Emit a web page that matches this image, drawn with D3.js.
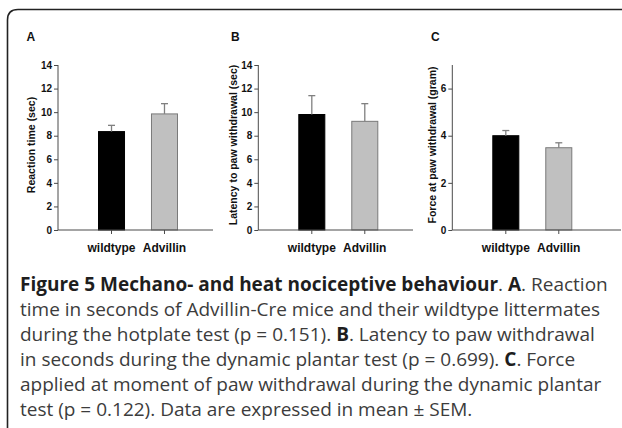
<!DOCTYPE html>
<html>
<head>
<meta charset="utf-8">
<script src="https://cdn.jsdelivr.net/npm/d3@7"></script>
<style>
  html, body { margin: 0; padding: 0; background: #fff; }
  svg { display: block; }
</style>
</head>
<body>
<svg id="chart" width="622" height="428"></svg>
<script>
// ---- Data ----
const categories = ["wildtype", "Advillin"];
const panelLetters = ["A", "B", "C"];
const yTitles = ["Reaction time (sec)", "Latency to paw withdrawal (sec)", "Force at paw withdrawal (gram)"];
const meansA = [8.35, 9.85];
const semA = [0.53, 0.87];
const meansB = [9.8, 9.22];
const semB = [1.6, 1.5];
const meansC = [4.0, 3.49];
const semC = [0.22, 0.21];
const yTicksAB = [0, 2, 4, 6, 8, 10, 12, 14];
const yTicksC = [0, 2, 4, 6];
const yMaxAB = 14;
const yMaxC = 7;

const captionLines = [
  [["Figure 5 Mechano- and heat nociceptive behaviour", true], [". ", false], ["A", true], [". Reaction", false]],
  [["time in seconds of Advillin-Cre mice and their wildtype littermates", false]],
  [["during the hotplate test (p = 0.151). ", false], ["B", true], [". Latency to paw withdrawal", false]],
  [["in seconds during the dynamic plantar test (p = 0.699). ", false], ["C", true], [". Force", false]],
  [["applied at moment of paw withdrawal during the dynamic plantar", false]],
  [["test (p = 0.122). Data are expressed in mean \u00b1 SEM.", false]]
];

// ---- Layout ----
const svg = d3.select("#chart");
const fontChart = "'Liberation Sans', Arial, sans-serif";
const fontCaption = "'Open Sans', 'Noto Sans', sans-serif";

// frame (rounded top-left corner, open to right/bottom)
svg.append("path")
  .attr("d", "M7.5,440 L7.5,20 Q7.5,9.5 18,9.5 L630,9.5")
  .attr("fill", "none")
  .attr("stroke", "#222")
  .attr("stroke-width", 1.6);

const panels = [
  { axisX: 58, right: 213, means: meansA, sem: semA, ticks: yTicksAB, yMax: yMaxAB, letterX: 26.5, titleX: 31.5 },
  { axisX: 258.3, right: 413, means: meansB, sem: semB, ticks: yTicksAB, yMax: yMaxAB, letterX: 231, titleX: 233.5 },
  { axisX: 452.3, right: 621, means: meansC, sem: semC, ticks: yTicksC, yMax: yMaxC, letterX: 431, titleX: 432 }
];

const yTop = 65, yBottom = 230;
const barFill = ["#000000", "#c0c0c0"];
const barStroke = ["#000000", "#7a7a7a"];
const axisColor = "#4a4a4a";

panels.forEach((p, i) => {
  const g = svg.append("g");
  const y = d3.scaleLinear().domain([0, p.yMax]).range([yBottom, yTop]);
  const x = d3.scaleBand().domain(categories)
    .range([p.axisX + 40, p.axisX + 120])
    .paddingInner(0.49).paddingOuter(0);

  // bars
  g.selectAll("rect.bar").data(categories).enter().append("rect")
    .attr("class", "bar")
    .attr("x", d => x(d) + 0.5)
    .attr("width", x.bandwidth() - 1)
    .attr("y", (d, j) => y(p.means[j]))
    .attr("height", (d, j) => y(0) - y(p.means[j]))
    .attr("fill", (d, j) => barFill[j])
    .attr("stroke", (d, j) => barStroke[j])
    .attr("stroke-width", 1);

  // error bars (upper only)
  const eb = g.selectAll("g.err").data(categories).enter().append("g").attr("class", "err");
  eb.append("line")
    .attr("x1", d => x(d) + x.bandwidth() / 2)
    .attr("x2", d => x(d) + x.bandwidth() / 2)
    .attr("y1", (d, j) => y(p.means[j]))
    .attr("y2", (d, j) => y(p.means[j] + p.sem[j]))
    .attr("stroke", "#808080").attr("stroke-width", 1.3);
  eb.append("line")
    .attr("x1", d => x(d) + x.bandwidth() / 2 - 3.5)
    .attr("x2", d => x(d) + x.bandwidth() / 2 + 3.5)
    .attr("y1", (d, j) => y(p.means[j] + p.sem[j]))
    .attr("y2", (d, j) => y(p.means[j] + p.sem[j]))
    .attr("stroke", "#808080").attr("stroke-width", 1.3);

  // y axis
  const yAxis = d3.axisLeft(y).tickValues(p.ticks).tickFormat(d3.format("d"))
    .tickSize(4).tickPadding(2).tickSizeOuter(0);
  const ya = g.append("g").attr("transform", `translate(${p.axisX},0)`).call(yAxis);
  ya.select(".domain").attr("stroke", axisColor).attr("d", `M0,${yBottom}V${yTop}`);
  ya.selectAll(".tick line").attr("stroke", axisColor);
  ya.selectAll(".tick text")
    .attr("font-family", fontChart).attr("font-weight", "bold")
    .attr("font-size", 10).attr("fill", "#111");

  // x axis
  const xAxis = d3.axisBottom(x).tickSize(4).tickSizeOuter(0).tickPadding(9);
  const xa = g.append("g").attr("transform", `translate(0,${yBottom})`).call(xAxis);
  xa.select(".domain").attr("stroke", axisColor).attr("d", `M${p.axisX},0H${p.right}`);
  xa.selectAll(".tick line").attr("stroke", axisColor);
  xa.selectAll(".tick text")
    .attr("font-family", fontChart).attr("font-weight", "bold")
    .attr("font-size", 12).attr("fill", "#111");

  // y title
  g.append("text")
    .attr("transform", `translate(${p.titleX},145) rotate(-90)`)
    .attr("text-anchor", "middle")
    .attr("dy", "0.35em")
    .attr("font-family", fontChart).attr("font-weight", "bold")
    .attr("font-size", 10.5).attr("fill", "#111")
    .text(yTitles[i]);

  // panel letter
  g.append("text")
    .attr("x", p.letterX).attr("y", 40.5)
    .attr("font-family", fontChart).attr("font-weight", "bold")
    .attr("font-size", 12).attr("fill", "#111")
    .text(panelLetters[i]);
});

// caption
const cap = svg.append("g");
captionLines.forEach((line, k) => {
  const t = cap.append("text")
    .attr("x", 20).attr("y", 291 + k * 25)
    .attr("font-family", fontCaption)
    .attr("font-size", 19)
    .attr("fill", "#3c3c3c")
    .attr("xml:space", "preserve");
  line.forEach(([s, bold]) => {
    t.append("tspan")
      .attr("font-weight", bold ? "bold" : "normal")
      .attr("fill", bold ? "#1e1e1e" : "#3c3c3c")
      .text(s);
  });
});
</script>
</body>
</html>
